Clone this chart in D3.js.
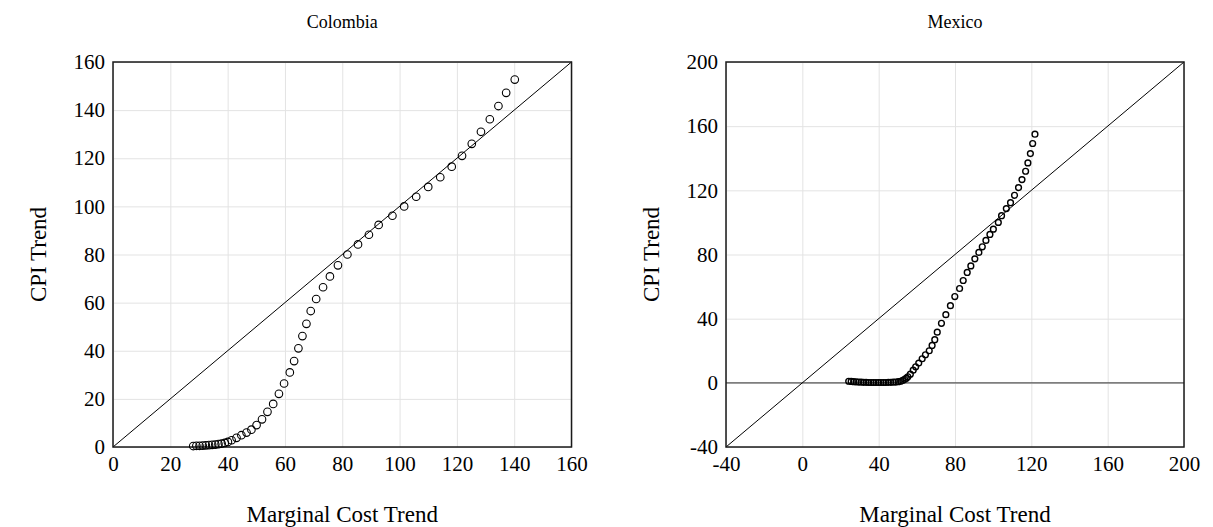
<!DOCTYPE html>
<html>
<head>
<meta charset="utf-8">
<script src="https://cdn.jsdelivr.net/npm/d3@7"></script>
<style>
  html, body { margin: 0; padding: 0; background: #fff; }
  svg { display: block; }
  text { font-family: "Liberation Serif", "Times New Roman", serif; fill: #000; }
</style>
</head>
<body>
<svg id="chart" width="1213" height="527"></svg>
<script>
// Trend pairs: [marginal cost trend, CPI trend]
const colombiaPoints = [
  [28.0,0.4],[29.1,0.5],[30.2,0.5],[31.3,0.6],[32.4,0.7],[33.5,0.8],[34.6,0.9],[35.7,1.0],
  [36.8,1.2],[37.9,1.4],[39.0,1.7],[40.1,2.1],[41.4,2.8],[43.1,3.8],[44.8,4.9],[46.6,6.0],
  [48.3,7.2],[50.1,9.1],[52.0,11.5],[53.9,14.6],[55.9,17.9],[57.9,22.1],[59.7,26.4],[61.7,31.0],
  [63.2,35.7],[64.7,41.0],[66.1,46.1],[67.5,51.2],[69.0,56.5],[70.9,61.5],[73.3,66.4],[75.7,70.9],
  [78.5,75.5],[81.8,80.0],[85.5,84.2],[89.3,88.2],[92.7,92.3],[97.5,96.1],[101.6,100.0],[105.8,104.0],
  [110.0,108.1],[114.2,112.1],[118.2,116.5],[121.8,121.0],[125.2,126.0],[128.4,131.0],[131.5,136.2],
  [134.5,141.7],[137.2,147.2],[140.2,152.7]
];
const mexicoPoints = [
  [24.3,1.0],[25.6,0.9],[26.9,0.7],[28.2,0.6],[29.5,0.5],[30.8,0.4],[32.1,0.3],[33.4,0.3],
  [34.7,0.2],[36.0,0.2],[37.3,0.2],[38.6,0.2],[39.9,0.2],[41.2,0.2],[42.5,0.2],[43.8,0.2],
  [45.1,0.3],[46.4,0.3],[47.7,0.4],[49.0,0.5],[50.3,0.7],[51.5,1.0],[52.6,1.5],[53.6,2.2],
  [54.5,2.9],[55.3,3.8],[56.6,5.4],[58.1,7.9],[59.4,10.0],[61.0,12.3],[62.8,15.0],[64.5,17.5],
  [66.5,20.0],[68.0,23.3],[69.4,26.9],[70.7,31.6],[72.9,37.1],[75.2,42.5],[77.6,48.1],[79.9,53.8],
  [82.4,58.8],[84.3,63.8],[86.4,68.8],[88.3,72.9],[90.4,77.3],[92.5,81.3],[94.3,84.8],[96.2,88.8],
  [98.3,92.5],[100.1,95.8],[102.7,100.0],[104.4,104.2],[106.9,108.6],[109.1,112.3],[111.2,116.9],
  [113.3,121.7],[115.1,126.7],[117.0,131.9],[118.2,137.1],[119.5,142.9],[120.7,149.2],[121.9,155.0]
];

const colombiaTicks = [0, 20, 40, 60, 80, 100, 120, 140, 160];
const mexicoTicks = [-40, 0, 40, 80, 120, 160, 200];

const panelTitles = ["Colombia", "Mexico"];
const xAxisTitle = "Marginal Cost Trend";
const yAxisTitle = "CPI Trend";

const svg = d3.select("#chart");
const serif = '"Liberation Serif", "Times New Roman", serif';
const plainNumber = v => String(v); // keeps the ASCII hyphen for negatives

function drawPanel(cfg) {
  const { title, points, ticks, left, right, top, bottom, markerR, markerW, zeroLine } = cfg;
  const domain = [ticks[0], ticks[ticks.length - 1]];
  const x = d3.scaleLinear().domain(domain).range([left, right]);
  const y = d3.scaleLinear().domain(domain).range([bottom, top]);
  const g = svg.append("g");

  // gridlines
  g.append("g")
    .attr("transform", `translate(0,${bottom})`)
    .call(d3.axisBottom(x).tickValues(ticks).tickSize(-(bottom - top)).tickFormat(""))
    .call(s => s.select(".domain").remove())
    .call(s => s.selectAll("line").attr("stroke", "#e3e3e3").attr("stroke-width", 1));
  g.append("g")
    .attr("transform", `translate(${left},0)`)
    .call(d3.axisLeft(y).tickValues(ticks).tickSize(-(right - left)).tickFormat(""))
    .call(s => s.select(".domain").remove())
    .call(s => s.selectAll("line").attr("stroke", "#e3e3e3").attr("stroke-width", 1));

  // zero reference line
  if (zeroLine) {
    g.append("line")
      .attr("x1", left).attr("x2", right)
      .attr("y1", y(0)).attr("y2", y(0))
      .attr("stroke", "#555").attr("stroke-width", 1.2);
  }

  // 45-degree line
  g.append("line")
    .attr("x1", x(domain[0])).attr("y1", y(domain[0]))
    .attr("x2", x(domain[1])).attr("y2", y(domain[1]))
    .attr("stroke", "#000").attr("stroke-width", 1);

  // frame
  g.append("rect")
    .attr("x", left).attr("y", top)
    .attr("width", right - left).attr("height", bottom - top)
    .attr("fill", "none").attr("stroke", "#1a1a1a").attr("stroke-width", 1.5);

  // tick labels
  g.append("g")
    .attr("transform", `translate(0,${bottom})`)
    .call(d3.axisBottom(x).tickValues(ticks).tickFormat(plainNumber).tickSize(0).tickPadding(9))
    .call(s => s.select(".domain").remove())
    .call(s => s.selectAll("text").attr("font-size", 21).attr("fill", "#000").style("font-family", serif));
  g.append("g")
    .attr("transform", `translate(${left},0)`)
    .call(d3.axisLeft(y).tickValues(ticks).tickFormat(plainNumber).tickSize(0).tickPadding(8))
    .call(s => s.select(".domain").remove())
    .call(s => s.selectAll("text").attr("font-size", 21).attr("fill", "#000").style("font-family", serif));

  // markers
  g.append("g").selectAll("circle")
    .data(points)
    .join("circle")
    .attr("cx", d => x(d[0]))
    .attr("cy", d => y(d[1]))
    .attr("r", markerR)
    .attr("fill", "none")
    .attr("stroke", "#000")
    .attr("stroke-width", markerW);

  const cx = (left + right) / 2;
  g.append("text")
    .attr("x", cx).attr("y", 28)
    .attr("text-anchor", "middle")
    .attr("font-size", 18)
    .text(title);
  g.append("text")
    .attr("x", cx).attr("y", 522)
    .attr("text-anchor", "middle")
    .attr("font-size", 23)
    .text(xAxisTitle);
  g.append("text")
    .attr("transform", `translate(${left - 67},${(top + bottom) / 2}) rotate(-90)`)
    .attr("text-anchor", "middle")
    .attr("font-size", 23)
    .text(yAxisTitle);
}

drawPanel({
  title: panelTitles[0], points: colombiaPoints, ticks: colombiaTicks,
  left: 113, right: 571.5, top: 62, bottom: 447,
  markerR: 3.8, markerW: 1.1, zeroLine: false
});
drawPanel({
  title: panelTitles[1], points: mexicoPoints, ticks: mexicoTicks,
  left: 726, right: 1184, top: 62, bottom: 447,
  markerR: 2.9, markerW: 1.4, zeroLine: true
});
</script>
</body>
</html>
